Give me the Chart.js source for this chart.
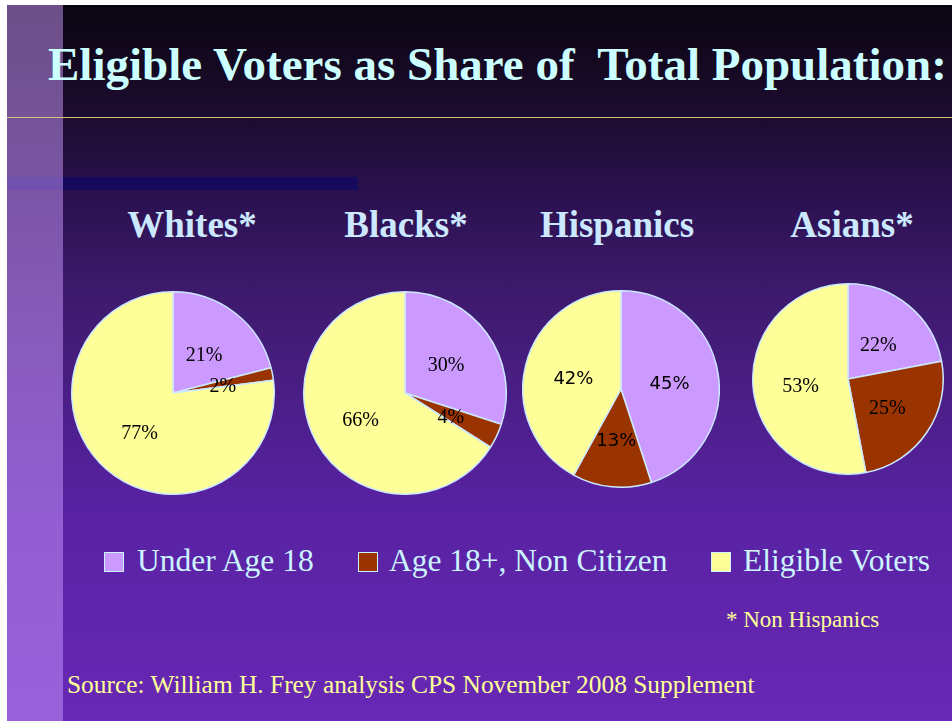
<!DOCTYPE html>
<html>
<head>
<meta charset="utf-8">
<script src="https://cdn.jsdelivr.net/npm/chart.js@4.4.1/dist/chart.umd.min.js"></script>
<style>
  html, body { margin: 0; padding: 0; background: #fff; width: 952px; height: 721px; overflow: hidden; }
  #slide {
    position: absolute; left: 7px; top: 5px; width: 945px; height: 716px;
    background: linear-gradient(to bottom, #0b0512 0%, #1c0c2e 15%, #2b1150 27%, #3d1a6c 40%, #5822a2 70%, #6828b6 100%);
  }
  .abs { position: absolute; }
  #bar { left: 7px; top: 177px; width: 351px; height: 13px; background: #150a5c; }
  #strip { left: 7px; top: 5px; width: 56px; height: 716px; background: rgba(204,153,255,0.5); }
  #rule { left: 7px; top: 117px; width: 945px; height: 1px; background: #d8c070; }
  .serif { font-family: "Liberation Serif", "Times New Roman", serif; line-height: 1; white-space: nowrap; }
  #title { left: 48px; top: 41px; font-size: 47px; font-weight: bold; color: #ccffff; }
  .group { top: 206px; width: 240px; margin-left: -120px; text-align: center; font-size: 37px; font-weight: bold; color: #cce8ff; }
  .legend-item { top: 545px; font-size: 31.5px; color: #ccf4ff; }
  .swatch { position: absolute; width: 18px; height: 18px; top: 552px; border: 1px solid #ccf4ff; }
  #note { left: 726px; top: 608px; font-size: 23px; color: #ffff99; }
  #source { left: 67px; top: 672px; font-size: 25.4px; color: #ffff99; }
  canvas { position: absolute; }
</style>
</head>
<body>
<div id="slide"></div>
<div id="bar" class="abs"></div>
<div id="strip" class="abs"></div>
<div id="rule" class="abs"></div>
<div id="title" class="abs serif">Eligible Voters as Share of&nbsp; Total Population:</div>
<div id="groups"></div>
<div id="legend"></div>
<div id="note" class="abs serif">* Non Hispanics</div>
<div id="source" class="abs serif">Source: William H. Frey analysis CPS November 2008 Supplement</div>
<div id="pies"></div>

<script>
// data (percent of total population)
const groups = ['Whites*', 'Blacks*', 'Hispanics', 'Asians*'];
const categories = ['Under Age 18', 'Age 18+, Non Citizen', 'Eligible Voters'];
const underAge18 = [21, 30, 45, 22];
const nonCitizen = [2, 4, 13, 25];
const eligibleVoters = [77, 66, 42, 53];

const sliceColors = ['#cc99ff', '#993300', '#ffff99'];
const edgeColor = '#cce8ff';

// where each pie sits on the slide: centre x, centre y, radius
const pieLayout = [
  { cx: 173, cy: 393, r: 101, titleX: 192, labelFont: '20px "Liberation Serif", serif' },
  { cx: 405, cy: 393, r: 101, titleX: 406, labelFont: '20px "Liberation Serif", serif' },
  { cx: 621, cy: 389, r: 98,  titleX: 617, labelFont: '18px "DejaVu Sans", sans-serif' },
  { cx: 848, cy: 379, r: 95,  titleX: 852, labelFont: '20px "Liberation Serif", serif' }
];
const legendLayout = [
  { sx: 104, tx: 137 },
  { sx: 358, tx: 389 },
  { sx: 711, tx: 743 }
];

// percent labels half way out along each slice
const sliceLabels = {
  id: 'sliceLabels',
  afterDatasetsDraw(chart, args, opts) {
    const ctx = chart.ctx;
    const meta = chart.getDatasetMeta(0);
    const values = chart.data.datasets[0].data;
    ctx.save();
    ctx.font = opts.font;
    ctx.fillStyle = '#000';
    ctx.textAlign = 'center';
    ctx.textBaseline = 'middle';
    meta.data.forEach((arc, i) => {
      const p = arc.getProps(['x', 'y', 'startAngle', 'endAngle', 'outerRadius']);
      const mid = (p.startAngle + p.endAngle) / 2;
      const d = p.outerRadius * 0.5;
      ctx.fillText(values[i] + '%', p.x + Math.cos(mid) * d, p.y + Math.sin(mid) * d + 3);
    });
    ctx.restore();
  }
};

const borderW = 1.5;
const piesEl = document.getElementById('pies');
const groupsEl = document.getElementById('groups');

groups.forEach((g, i) => {
  const L = pieLayout[i];

  const t = document.createElement('div');
  t.className = 'abs serif group';
  t.style.left = L.titleX + 'px';
  t.textContent = g;
  groupsEl.appendChild(t);

  const size = Math.round(2 * L.r + borderW);
  const cv = document.createElement('canvas');
  cv.width = size; cv.height = size;
  cv.style.left = (L.cx - size / 2) + 'px';
  cv.style.top = (L.cy - size / 2) + 'px';
  piesEl.appendChild(cv);

  new Chart(cv, {
    type: 'pie',
    data: {
      labels: categories,
      datasets: [{
        data: [underAge18[i], nonCitizen[i], eligibleVoters[i]],
        backgroundColor: sliceColors,
        borderColor: edgeColor,
        borderWidth: borderW
      }]
    },
    options: {
      responsive: false,
      animation: false,
      devicePixelRatio: 1,
      layout: { padding: 0 },
      plugins: {
        legend: { display: false },
        tooltip: { enabled: false },
        sliceLabels: { font: L.labelFont }
      }
    },
    plugins: [sliceLabels]
  });
});

const legendEl = document.getElementById('legend');
categories.forEach((c, i) => {
  const sw = document.createElement('div');
  sw.className = 'swatch';
  sw.style.left = legendLayout[i].sx + 'px';
  sw.style.background = sliceColors[i];
  legendEl.appendChild(sw);
  const tx = document.createElement('div');
  tx.className = 'abs serif legend-item';
  tx.style.left = legendLayout[i].tx + 'px';
  tx.textContent = c;
  legendEl.appendChild(tx);
});
</script>
</body>
</html>
